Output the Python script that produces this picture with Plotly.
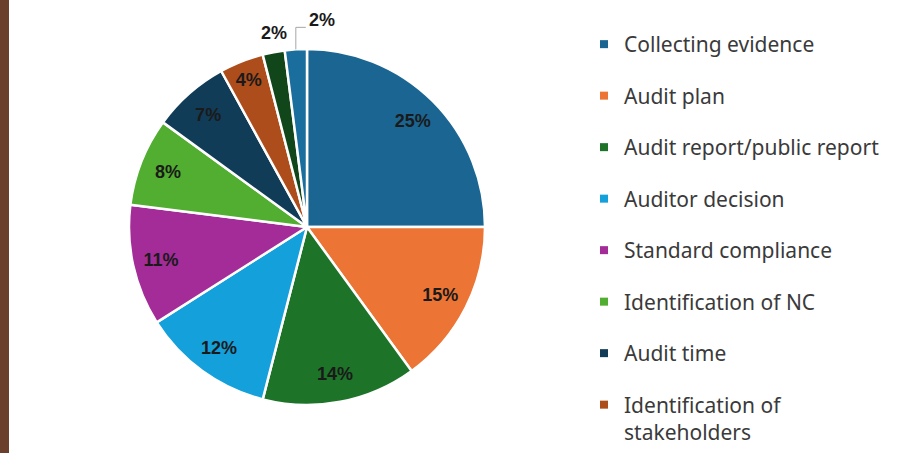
import math
import plotly.graph_objects as go

labels = ["Collecting evidence", "Audit plan", "Audit report/public report",
          "Auditor decision", "Standard compliance", "Identification of NC",
          "Audit time", "Identification of<br>stakeholders", "Other A", "Other B"]
values = [25, 15, 14, 12, 11, 8, 7, 4, 2, 2]
colors = ["#1A6592", "#EC7434", "#1D7328", "#14A0DA", "#A42C98", "#52AE30",
          "#113C58", "#AE4D1C", "#10461A", "#1A6E9E"]
legend_count = 8  # entries visible in the reference legend
outside_idx = [8, 9]  # small slices labelled outside

W, H = 904, 453
cx, cy, r = 307, 227, 178
dom_x = [(cx - r) / W, (cx + r) / W]
dom_y = [(H - cy - r) / H, (H - cy + r) / H]

lab_font = dict(family="Liberation Sans", size=18, color="#1a1a1a", weight="bold")

fig = go.Figure()

# main pie (slices only)
fig.add_trace(go.Pie(
    labels=labels, values=values, sort=False, direction="clockwise", rotation=0,
    marker=dict(colors=colors, line=dict(color="white", width=2.5)),
    textinfo="none", showlegend=False, domain=dict(x=dom_x, y=dom_y),
    hoverinfo="label+percent",
))

# transparent ring pie used to place labels at ~0.84 r
textpos = ["none" if i in outside_idx else "inside" for i in range(len(values))]
fig.add_trace(go.Pie(
    labels=labels, values=values, sort=False, direction="clockwise", rotation=0,
    hole=0.68,
    marker=dict(colors=["rgba(0,0,0,0)"] * len(values), line=dict(width=0)),
    texttemplate="%{percent:.0%}", textposition=textpos,
    insidetextorientation="horizontal", textfont=lab_font,
    showlegend=False, domain=dict(x=dom_x, y=dom_y), hoverinfo="skip",
    automargin=False,
))

# outside labels for the small slices, positioned from the data
total = sum(values)
annotations, shapes = [], []
for k, i in enumerate(outside_idx):
    start = sum(values[:i]) / total
    mid = (start + values[i] / total / 2) * 2 * math.pi
    ax = cx + r * math.sin(mid)
    ay = cy - r * math.cos(mid)
    pct = f"{round(100 * values[i] / total)}%"
    if k == 0:
        annotations.append(dict(x=ax / W, y=1 - (ay - 19) / H, xref="paper", yref="paper",
                                text=pct, showarrow=False, font=lab_font,
                                xanchor="center", yanchor="middle"))
    else:
        ey = ay - 22
        shapes.append(dict(type="path", xref="paper", yref="paper",
                           path=f"M {ax / W} {1 - ay / H} L {ax / W} {1 - ey / H} L {(ax + 10) / W} {1 - ey / H}",
                           line=dict(color="#a6a6a6", width=1)))
        annotations.append(dict(x=(ax + 11) / W, y=1 - (ey - 7) / H, xref="paper", yref="paper",
                                text=pct, showarrow=False, font=lab_font,
                                xanchor="left", yanchor="middle"))

# legend entries (square markers)
for lab, col in list(zip(labels, colors))[:legend_count]:
    fig.add_trace(go.Scatter(
        x=[None], y=[None], mode="markers", name=lab, legendgroup=lab,
        marker=dict(symbol="square", size=8, color=col),
    ))

shapes.append(dict(type="rect", xref="paper", yref="paper", x0=0, x1=9 / W, y0=0, y1=1,
                   fillcolor="#6A3F2C", line=dict(width=0), layer="above"))

fig.update_layout(
    width=W, height=H, margin=dict(l=0, r=0, t=0, b=0),
    paper_bgcolor="white", plot_bgcolor="white",
    xaxis=dict(visible=False), yaxis=dict(visible=False),
    legend=dict(x=584 / W, y=1 - 25 / H, xanchor="left", yanchor="top",
                font=dict(family="Noto Sans", size=21, color="#3a3a3a"),
                tracegroupgap=21.2, valign="top", bgcolor="rgba(0,0,0,0)"),
    shapes=shapes, annotations=annotations,
)

fig.write_html("out.html", config={"displayModeBar": False},
               post_script="document.body.style.margin='0';")
